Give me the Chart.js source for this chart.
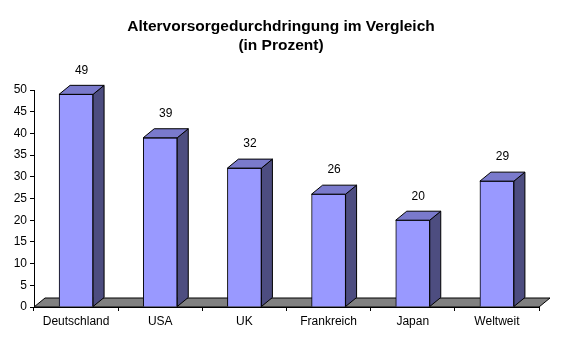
<!DOCTYPE html>
<html>
<head>
<meta charset="utf-8">
<script src="https://cdn.jsdelivr.net/npm/chart.js@4"></script>
<style>
  body { margin: 0; background: #fff; }
  #wrap { width: 567px; height: 351px; }
</style>
</head>
<body>
<div id="wrap"><canvas id="myChart" width="567" height="351"></canvas></div>
<script>
var laender = ['Deutschland', 'USA', 'UK', 'Frankreich', 'Japan', 'Weltweit'];
var prozent = [49, 39, 32, 26, 20, 29];
var yTicks = [0, 5, 10, 15, 20, 25, 30, 35, 40, 45, 50];
var titel = ['Altervorsorgedurchdringung im Vergleich', '(in Prozent)'];

var fontFam = '"Liberation Sans", Arial, sans-serif';
var DX = 11, DY = -9;

// draws floor, side + top faces, value labels and the title
var pseudo3d = {
  id: 'pseudo3d',
  beforeDatasetsDraw: function(chart) {
    var c = chart.ctx, a = chart.chartArea;
    c.save();
    c.beginPath();
    c.moveTo(a.left, a.bottom);
    c.lineTo(a.right, a.bottom);
    c.lineTo(a.right + DX, a.bottom + DY);
    c.lineTo(a.left + DX, a.bottom + DY);
    c.closePath();
    c.fillStyle = '#808080';
    c.fill();
    c.strokeStyle = '#000';
    c.lineWidth = 1;
    c.stroke();
    c.restore();
  },
  afterDatasetsDraw: function(chart) {
    var c = chart.ctx;
    var meta = chart.getDatasetMeta(0);
    c.save();
    c.lineWidth = 1;
    c.strokeStyle = '#000';
    meta.data.forEach(function(bar, i) {
      var l = bar.x - bar.width / 2, r = bar.x + bar.width / 2;
      var t = bar.y, b = bar.base;
      // side
      c.beginPath();
      c.moveTo(r, t);
      c.lineTo(r + DX, t + DY);
      c.lineTo(r + DX, b + DY);
      c.lineTo(r, b);
      c.closePath();
      c.fillStyle = '#4d4d80';
      c.fill();
      c.stroke();
      // top
      c.beginPath();
      c.moveTo(l, t);
      c.lineTo(l + DX, t + DY);
      c.lineTo(r + DX, t + DY);
      c.lineTo(r, t);
      c.closePath();
      c.fillStyle = '#7a7acc';
      c.fill();
      c.stroke();
      // value
      c.fillStyle = '#000';
      c.font = '12px ' + fontFam;
      c.textAlign = 'center';
      c.textBaseline = 'middle';
      c.fillText(String(prozent[i]), bar.x + DX / 2, t + DY - 15);
    });
    c.restore();
  },
  afterDraw: function(chart) {
    var c = chart.ctx;
    c.save();
    c.fillStyle = '#000';
    c.font = 'bold 15.5px ' + fontFam;
    c.textAlign = 'center';
    c.textBaseline = 'middle';
    c.fillText(titel[0], 281, 27);
    c.fillText(titel[1], 281, 45.5);
    c.restore();
  }
};

var ctx = document.getElementById('myChart').getContext('2d');
var myChart = new Chart(ctx, {
  type: 'bar',
  data: {
    labels: laender,
    datasets: [{
      data: prozent,
      backgroundColor: '#9999ff',
      borderColor: '#000',
      borderWidth: 1,
      barThickness: 34
    }]
  },
  options: {
    responsive: false,
    animation: false,
    layout: { padding: { left: 0, right: 28, top: 90, bottom: 0 } },
    scales: {
      y: {
        min: 0,
        max: 50,
        afterBuildTicks: function(s) { s.ticks = yTicks.map(function(v) { return { value: v }; }); },
        afterFit: function(s) { s.width = 34; },
        border: { color: '#000', width: 1 },
        grid: { drawOnChartArea: false, tickLength: 4, color: '#000' },
        ticks: { color: '#000', font: { family: fontFam, size: 12 }, padding: 3 }
      },
      x: {
        afterFit: function(s) { s.height = 44; },
        border: { color: '#000', width: 1 },
        grid: { drawOnChartArea: false, tickLength: 4, color: '#000', offset: true },
        ticks: { color: '#000', font: { family: fontFam, size: 12 }, padding: 3, maxRotation: 0 }
      }
    },
    plugins: {
      legend: { display: false },
      tooltip: { enabled: false },
      title: { display: false }
    }
  },
  plugins: [pseudo3d]
});
</script>
</body>
</html>
